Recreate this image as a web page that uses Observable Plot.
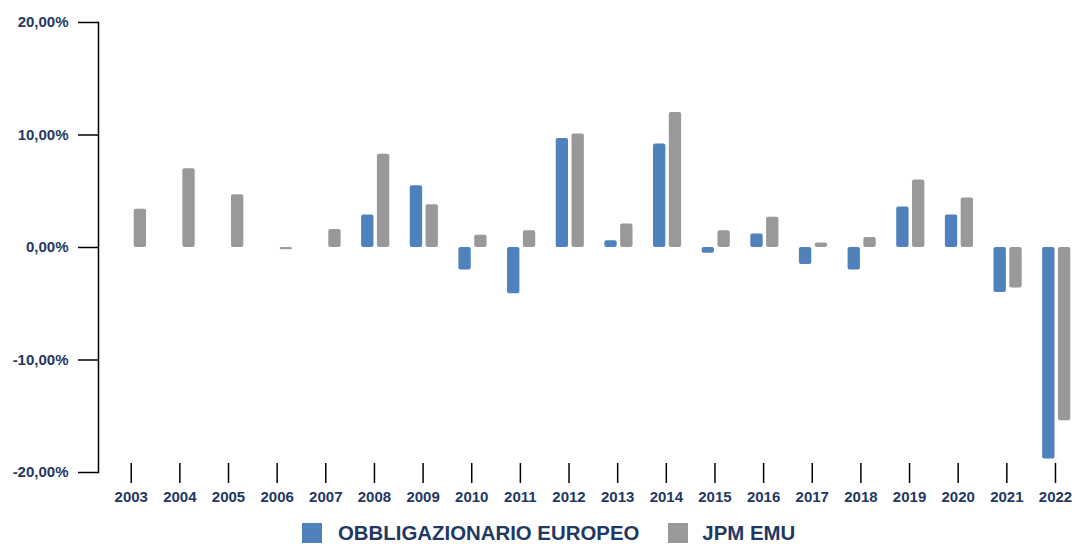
<!DOCTYPE html>
<html>
<head>
<meta charset="utf-8">
<script src="https://cdn.jsdelivr.net/npm/d3@7"></script>
<script src="https://cdn.jsdelivr.net/npm/@observablehq/plot@0.6"></script>
<style>
  html, body { margin: 0; padding: 0; background: #fff; overflow: hidden; }
  body { width: 1075px; height: 544px; font-family: "Liberation Sans", Arial, sans-serif; }
  #chart svg { display: block; }
  #legend { display: flex; align-items: center; height: 26px; margin-left: 302px;
            font-size: 20.4px; line-height: 20px; font-weight: bold; color: #1f3864; white-space: nowrap; }
  .sw { width: 20px; height: 20px; display: inline-block; }
</style>
</head>
<body>
<div id="chart"></div>
<div id="legend"></div>
<script>
const years = ["2003","2004","2005","2006","2007","2008","2009","2010","2011","2012",
               "2013","2014","2015","2016","2017","2018","2019","2020","2021","2022"];
const obbligazionarioEuropeo = [null, null, null, null, null, 2.9, 5.5, -2.0, -4.1, 9.7,
                                0.6, 9.2, -0.5, 1.2, -1.5, -2.0, 3.6, 2.9, -4.0, -18.8];
const jpmEmu = [3.4, 7.0, 4.7, -0.2, 1.6, 8.3, 3.8, 1.1, 1.5, 10.1,
                2.1, 12.0, 1.5, 2.7, 0.4, 0.9, 6.0, 4.4, -3.6, -15.4];
const yTicks = [-20, -10, 0, 10, 20];
const seriesNames = ["OBBLIGAZIONARIO EUROPEO", "JPM EMU"];
const seriesColors = ["#4f81bd", "#999999"];

const blueData = years.map((year, i) => ({year, value: obbligazionarioEuropeo[i]})).filter(d => d.value != null);
const grayData = years.map((year, i) => ({year, value: jpmEmu[i]}));

const navy = "#1f3864";
const fmt = d => d.toFixed(2).replace(".", ",") + "%";

const chart = Plot.plot({
  width: 1075,
  height: 520,
  marginTop: 22,
  marginBottom: 48,
  marginLeft: 98,
  marginRight: 0,
  style: {fontFamily: "'Liberation Sans', Arial, sans-serif", fontSize: "15px", fontWeight: "bold", background: "white"},
  x: {type: "band", domain: years, range: [106.4, 1079.3], padding: 0, round: false},
  y: {domain: [-20, 20]},
  marks: [
    Plot.barY(blueData, {x: "year", y: "value", fill: seriesColors[0], insetLeft: 11.5, insetRight: 24.8, rx: 2}),
    Plot.barY(grayData, {x: "year", y: "value", fill: seriesColors[1], insetLeft: 27.3, insetRight: 9.0, rx: 2}),
    Plot.frame({anchor: "left", stroke: "black", strokeWidth: 1.5}),
    Plot.axisY({ticks: yTicks, tickFormat: fmt, tickSize: 20, tickPadding: 10, stroke: "black", strokeWidth: 1.5,
                fill: navy, fontSize: 15, fontWeight: "bold", label: null}),
    Plot.axisX({tickSize: 20, tickPadding: 8, dy: -9, stroke: "black", strokeWidth: 1.5,
                fill: navy, fontSize: 15, fontWeight: "bold", label: null})
  ]
});
document.getElementById("chart").appendChild(chart);

const legend = document.getElementById("legend");
legend.innerHTML =
  `<span class="sw" style="background:${seriesColors[0]}"></span>` +
  `<span style="margin-left:16px">${seriesNames[0]}</span>` +
  `<span class="sw" style="background:${seriesColors[1]};margin-left:29px"></span>` +
  `<span style="margin-left:14px">${seriesNames[1]}</span>`;
</script>
</body>
</html>
